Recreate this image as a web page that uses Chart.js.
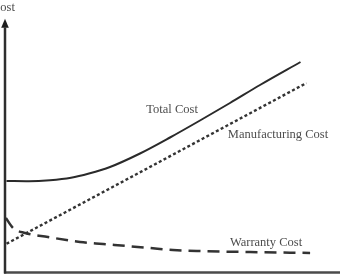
<!DOCTYPE html>
<html>
<head>
<meta charset="utf-8">
<script src="https://cdn.jsdelivr.net/npm/chart.js@4"></script>
<style>
html,body{margin:0;padding:0;background:#fff;}
#wrap{width:340px;height:276px;position:relative;}
</style>
</head>
<body>
<div id="wrap"><canvas id="c" width="340" height="276"></canvas></div>
<script>
// Quantity (x) and cost (y) in arbitrary units
const totalX = [0.5, 8, 15, 22, 28, 35, 45, 55, 65, 75, 85, 98.5];
const totalY = [36.6, 36.5, 36.9, 37.9, 39.6, 42.2, 47.6, 54, 60.8, 67.8, 75, 84.2];

const mfgX = [0.5, 34, 100.5];
const mfgY = [11.5, 33, 75.8];

const warrX = [0.3, 2.7, 6.7, 14.3, 25, 32.7, 40.7, 48.3, 56, 64, 81.7, 101.7];
const warrY = [21.8, 17.8, 15.8, 14.2, 12.2, 11.4, 10.6, 9.8, 9, 8.6, 8.2, 7.8];

const seriesNames = ['Total Cost', 'Manufacturing Cost', 'Warranty Cost'];
const axisTitle = 'Cost';

const pts = (xs, ys) => xs.map((x, i) => ({x: x, y: ys[i]}));

const axesPlugin = {
  id: 'axes',
  afterDatasetsDraw(chart) {
    const ctx = chart.ctx;
    const xs = chart.scales.x, ys = chart.scales.y;
    const x0 = xs.getPixelForValue(0);
    const y0 = ys.getPixelForValue(0);
    ctx.save();
    // x axis
    ctx.strokeStyle = '#4a4a4a';
    ctx.lineWidth = 2.5;
    ctx.beginPath();
    ctx.moveTo(x0 - 1, y0);
    ctx.lineTo(chart.width, y0);
    ctx.stroke();
    // y axis
    const yTop = ys.getPixelForValue(98);
    ctx.strokeStyle = '#2e2e2e';
    ctx.beginPath();
    ctx.moveTo(x0, y0 + 1);
    ctx.lineTo(x0, yTop);
    ctx.stroke();
    // arrow head
    const tip = ys.getPixelForValue(101.5);
    ctx.fillStyle = '#1e1e1e';
    ctx.beginPath();
    ctx.moveTo(x0, tip);
    ctx.lineTo(x0 - 3.8, tip + 9);
    ctx.lineTo(x0 + 3.8, tip + 9);
    ctx.closePath();
    ctx.fill();
    // texts
    ctx.fillStyle = '#4d4d4d';
    ctx.font = '12.5px "Liberation Serif", serif';
    ctx.textBaseline = 'middle';
    ctx.textAlign = 'left';
    ctx.fillText(axisTitle, x0 - 13, ys.getPixelForValue(106));
    ctx.textAlign = 'center';
    ctx.fillText(seriesNames[0], xs.getPixelForValue(55.7), ys.getPixelForValue(65));
    ctx.fillText(seriesNames[1], xs.getPixelForValue(91), ys.getPixelForValue(55));
    ctx.fillText(seriesNames[2], xs.getPixelForValue(87), ys.getPixelForValue(11.8));
    ctx.restore();
  }
};

new Chart(document.getElementById('c'), {
  type: 'line',
  data: {
    datasets: [
      {
        label: seriesNames[0],
        data: pts(totalX, totalY),
        borderColor: '#2a2a2a',
        borderWidth: 2,
        pointRadius: 0,
        cubicInterpolationMode: 'monotone',
        fill: false
      },
      {
        label: seriesNames[1],
        data: pts(mfgX, mfgY),
        borderColor: '#333333',
        borderWidth: 2.4,
        borderDash: [3, 2.4],
        pointRadius: 0,
        fill: false
      },
      {
        label: seriesNames[2],
        data: pts(warrX, warrY),
        borderColor: '#333333',
        borderWidth: 2.5,
        borderDash: [12, 7],
        pointRadius: 0,
        cubicInterpolationMode: 'monotone',
        fill: false
      }
    ]
  },
  options: {
    responsive: false,
    animation: false,
    maintainAspectRatio: false,
    layout: {padding: 0},
    plugins: {legend: {display: false}, tooltip: {enabled: false}},
    scales: {
      x: {type: 'linear', display: false, min: -5 / 3, max: 335 / 3},
      y: {type: 'linear', display: false, min: -1.4, max: 109}
    }
  },
  plugins: [axesPlugin]
});
</script>
</body>
</html>
